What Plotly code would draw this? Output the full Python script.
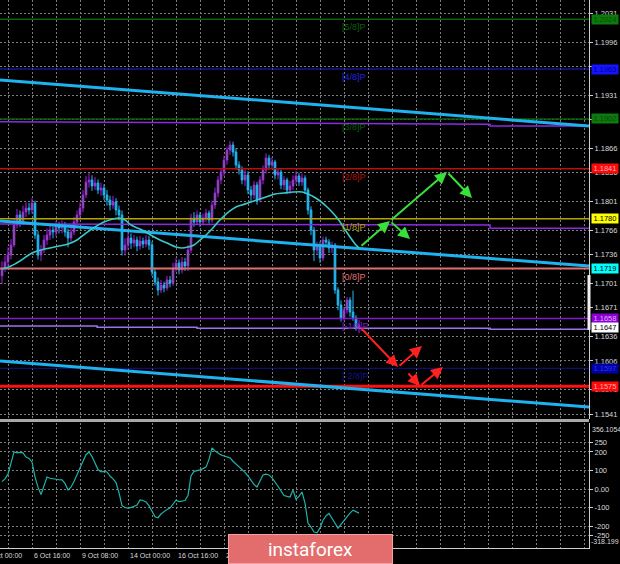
import plotly.graph_objects as go

# ---------------- data ----------------
bar_index = list(range(-10, 110))

close = [
    1.17196, 1.17270, 1.17355, 1.17478, 1.17722, 1.17845, 1.17759, 1.17881, 1.17930, 1.17906,
    1.17991, 1.17600, 1.17355, 1.17416, 1.17539, 1.17600, 1.17661, 1.17637, 1.17710, 1.17686,
    1.17722, 1.17637, 1.17563, 1.17637, 1.17759, 1.17845, 1.17930, 1.18089, 1.18248, 1.18273,
    1.18200, 1.18236, 1.18150, 1.18175, 1.18089, 1.18028, 1.17967, 1.18003, 1.17906, 1.17845,
    1.17416, 1.17478, 1.17563, 1.17502, 1.17539, 1.17466, 1.17526, 1.17490, 1.17539, 1.17478,
    1.17148, 1.17025, 1.16927, 1.16988, 1.16952, 1.17050, 1.17013, 1.17196, 1.17257, 1.17172,
    1.17270, 1.17221, 1.17416, 1.17808, 1.17759, 1.17845, 1.17759, 1.17808, 1.17869, 1.17783,
    1.17967, 1.18114, 1.18273, 1.18370, 1.18517, 1.18639, 1.18701, 1.18615, 1.18456, 1.18395,
    1.18273, 1.18334, 1.18150, 1.18089, 1.18211, 1.18028, 1.18273, 1.18395, 1.18542, 1.18456,
    1.18493, 1.18334, 1.18370, 1.18211, 1.18273, 1.18150, 1.18200, 1.18273, 1.18322, 1.18248,
    1.18297, 1.18150, 1.17906, 1.17661, 1.17416, 1.17478, 1.17319, 1.17539, 1.17514, 1.17441,
    1.17478, 1.16927, 1.16744, 1.16585, 1.16683, 1.16805, 1.16658, 1.16585, 1.16463, 1.16500,
]
high = [
    1.1728, 1.1735, 1.1745, 1.1755, 1.1780, 1.1792, 1.1790, 1.1796, 1.1800, 1.1799,
    1.1805, 1.1802, 1.1765, 1.1748, 1.1760, 1.1768, 1.1772, 1.1770, 1.1777, 1.1776,
    1.1778, 1.1776, 1.1768, 1.1770, 1.1782, 1.1790, 1.1800, 1.1815, 1.1832, 1.1836,
    1.1833, 1.1831, 1.1828, 1.1824, 1.1822, 1.1815, 1.1808, 1.1808, 1.1805, 1.1796,
    1.1790, 1.1756, 1.1764, 1.1762, 1.1760, 1.1758, 1.1759, 1.1757, 1.1760, 1.1759,
    1.1752, 1.1720, 1.1708, 1.1705, 1.1703, 1.1710, 1.1710, 1.1726, 1.1732, 1.1730,
    1.1733, 1.1732, 1.1748, 1.1786, 1.1788, 1.1790, 1.1788, 1.1786, 1.1792, 1.1790,
    1.1802, 1.1818, 1.1832, 1.1842, 1.1857, 1.1868, 1.1875, 1.1874, 1.1866, 1.1850,
    1.1844, 1.1840, 1.1838, 1.1820, 1.1826, 1.1825, 1.1832, 1.1845, 1.1860, 1.1858,
    1.1855, 1.1852, 1.1842, 1.1840, 1.1832, 1.1830, 1.1826, 1.1833, 1.1838, 1.1836,
    1.1835, 1.1833, 1.1818, 1.1795, 1.1770, 1.1752, 1.1752, 1.1758, 1.1758, 1.1755,
    1.1752, 1.1750, 1.1696, 1.1680, 1.1672, 1.1684, 1.1684, 1.1692, 1.1662, 1.1656,
]
low = [
    1.1700, 1.1715, 1.1722, 1.1730, 1.1745, 1.1768, 1.1770, 1.1772, 1.1782, 1.1785,
    1.1786, 1.1755, 1.1730, 1.1728, 1.1738, 1.1748, 1.1754, 1.1756, 1.1758, 1.1762,
    1.1762, 1.1758, 1.1745, 1.1752, 1.1760, 1.1770, 1.1779, 1.1788, 1.1805, 1.1818,
    1.1814, 1.1815, 1.1810, 1.1808, 1.1803, 1.1796, 1.1790, 1.1792, 1.1784, 1.1778,
    1.1735, 1.1735, 1.1742, 1.1743, 1.1745, 1.1740, 1.1742, 1.1744, 1.1745, 1.1742,
    1.1710, 1.1698, 1.1686, 1.1689, 1.1690, 1.1692, 1.1696, 1.1698, 1.1715, 1.1712,
    1.1713, 1.1716, 1.1716, 1.1738, 1.1770, 1.1772, 1.1770, 1.1772, 1.1776, 1.1774,
    1.1775, 1.1792, 1.1806, 1.1822, 1.1832, 1.1846, 1.1858, 1.1856, 1.1840, 1.1834,
    1.1822, 1.1820, 1.1810, 1.1800, 1.1804, 1.1797, 1.1800, 1.1822, 1.1835, 1.1840,
    1.1842, 1.1828, 1.1828, 1.1816, 1.1815, 1.1810, 1.1810, 1.1815, 1.1822, 1.1820,
    1.1820, 1.1810, 1.1785, 1.1760, 1.1728, 1.1736, 1.1726, 1.1728, 1.1745, 1.1738,
    1.1738, 1.1688, 1.1668, 1.1654, 1.1655, 1.1664, 1.1660, 1.1655, 1.1643, 1.1640,
]
first_open = 1.1710
open_ = [first_open] + close[:-1]

ma_index = [-10, -7, -4, 0, 3, 6, 9, 12, 15, 18, 21, 24, 27, 29, 31, 33, 36, 39, 42, 45,
            48, 50, 52, 54, 56, 58, 60, 62, 64, 66, 68, 70, 72, 75, 78, 81, 84, 87, 90, 92,
            94, 96, 98, 100, 102, 104, 106, 108, 109]
ma_value = [1.17184, 1.17221, 1.17282, 1.17380, 1.17416, 1.17441, 1.17465, 1.17490, 1.17539, 1.17624,
            1.17698, 1.17759, 1.17796, 1.17808, 1.17783, 1.17722, 1.17673, 1.17612, 1.17551, 1.17502,
            1.17453, 1.17441, 1.17453, 1.17478, 1.17539, 1.17600, 1.17673, 1.17759, 1.17832, 1.17894,
            1.17943, 1.17967, 1.17991, 1.18028, 1.18065, 1.18101, 1.18114, 1.18126, 1.18126, 1.18101,
            1.18065, 1.18016, 1.17955, 1.17881, 1.17796, 1.17686, 1.17576, 1.17478, 1.17441]

cci = [40, 55, 80, 140, 200, 195, 198, 195, 172, 165,
       146, 65, 10, -30, 20, 65, 58, 54, 52, 50,
       49, 30, -5, 10, 40, 80, 114, 150, 185, 200,
       175, 140, 105, 92, 95, 92, 70, 55, 35, -20,
       -90, -100, -103, -100, -95, -86, -59, -62, -70, -90,
       -120, -150, -155, -135, -122, -110, -103, -80, -60, -68,
       -66, -62, -35, 70, 95, 98, 103, 110, 118, 160,
       222, 205, 192, 184, 178, 172, 168, 150, 135, 122,
       105, 90, 70, 45, 25, 11, 45, 76, 80, 76,
       60, 40, 15, -10, -35, -40, -43, -5, -55, -40,
       -16, -76, -184, -205, -232, -236, -210, -168, -145, -132,
       -155, -185, -211, -190, -172, -148, -130, -114, -122, -130]

# Murrey levels
level_values = [1.2024, 1.1963, 1.1902, 1.1841, 1.1780, 1.1719, 1.1658, 1.1597]
level_names = ["[5/8]P", "[4/8]P", "[3/8]P", "[2/8]P", "[1/8]P", "[0/8]P", "[-1/8]P", "[-2/8]P"]
level_colors = ["#0b5f0b", "#2222e0", "#0b5f0b", "#b80f0f", "#b4a400", "#e07070", "#8418cc", "#12128c"]
level_widths = [1.5, 1, 1.5, 1.5, 1.5, 2, 1.5, 1]

# price boxes on the right scale
box_values = [1.2024, 1.1963, 1.1902, 1.1841, 1.1780, 1.1719, 1.1658, 1.1647, 1.1597, 1.1575]
box_bg = ["#0d7a0d", "#1414ff", "#0d7a0d", "#ff0a0a", "#ffff00", "#00ffff", "#8c00d4", "#ffffff", "#0000a0", "#ff0a0a"]
box_fg = ["#0a4a0a", "#000090", "#0a4a0a", "#ffb0b0", "#000000", "#000000", "#e0b0ff", "#000000", "#3030ff", "#ffb0b0"]

# other horizontal / sloped lines (bar index, price)
support_red = 1.1575
purple_hi_x = [-10.667, 90, 152.7, 152.7, 185.667]
purple_hi_y = [1.18986, 1.18962, 1.18955, 1.18933, 1.18933]
purple_mid_x = [-10.667, 152.7, 152.7, 185.667]
purple_mid_y = [1.17734, 1.17722, 1.17682, 1.17682]
purple_lo_x = [-10.667, 21.7, 21.7, 55, 55, 152.7, 152.7, 185.667]
purple_lo_y = [1.16487, 1.16487, 1.16471, 1.16471, 1.16459, 1.16459, 1.16447, 1.16447]

trend_x = [-10.667, 185.667]
trend_upper = [1.19496, 1.18933]
trend_mid = [1.17771, 1.17221]
trend_low = [1.16059, 1.15496]

# forecast arrows: (tail_x, tail_y, head_x, head_y)
green_arrows = [(109.33, 1.17453, 119.33, 1.17771),
                (119.33, 1.17771, 126.0, 1.17551),
                (119.33, 1.17771, 138.33, 1.18370),
                (138.33, 1.18370, 146.67, 1.18053)]
red_arrows = [(109.33, 1.16475, 122.0, 1.15986),
              (122.0, 1.15986, 130.0, 1.16243),
              (125.0, 1.15925, 129.33, 1.15753),
              (129.33, 1.15753, 137.0, 1.15986)]

price_ticks = [1.2031, 1.1996, 1.1966, 1.1931, 1.1901, 1.1866, 1.1836, 1.1801, 1.1766,
               1.1736, 1.1701, 1.1671, 1.1636, 1.1606, 1.1571, 1.1541]
# labels of 1.1966 and 1.1901 are fully covered by the level boxes in the original
price_tick_text = ["1.2031", "1.1996", "", "1.1931", "", "1.1866", "1.1836", "1.1801", "1.1766",
                   "1.1736", "1.1701", "1.1671", "1.1636", "1.1606", "1.1571", "1.1541"]
cci_ticks = [250, 200, 100, 0, -100, -200, -250]
cci_tick_text = ["250", "200", "100", "0.00", "-100", "-200", "-250"]
cci_max, cci_min = 356.1054, -318.199

time_label_index = [-16, 0, 16, 32, 48, 64]
time_label_text = ["2 Oct 00:00", "6 Oct 16:00", "9 Oct 08:00", "14 Oct 00:00",
                   "16 Oct 16:00", "21 Oct 08:00"]

# ---------------- layout constants ----------------
W, H = 620, 564
ML, MR, MT, MB = 0, 31, 0, 16
x_min, x_max = -32 / 3, (589 - 32) / 3
p_top, p_bot = 1.20474, 1.15350
FONT = "Liberation Sans"
TXT = "#dadada"
GRID = "#7c7c7c"
FS = 7.5

fig = go.Figure()

for v, c, w in zip(level_values, level_colors, level_widths):
    fig.add_trace(go.Scatter(x=[x_min, x_max], y=[v, v], mode="lines",
                             line=dict(color=c, width=w), hoverinfo="skip", showlegend=False))
fig.add_trace(go.Scatter(x=purple_hi_x, y=purple_hi_y, mode="lines",
                         line=dict(color="#8a2be2", width=1.5), hoverinfo="skip", showlegend=False))
fig.add_trace(go.Scatter(x=purple_mid_x, y=purple_mid_y, mode="lines",
                         line=dict(color="#8a2be2", width=1.5), hoverinfo="skip", showlegend=False))
fig.add_trace(go.Scatter(x=purple_lo_x, y=purple_lo_y, mode="lines",
                         line=dict(color="#a070f0", width=1.5), hoverinfo="skip", showlegend=False))
fig.add_trace(go.Scatter(x=[x_min, x_max], y=[support_red, support_red], mode="lines",
                         line=dict(color="#ff1010", width=3), hoverinfo="skip", showlegend=False))
for ty in (trend_upper, trend_mid, trend_low):
    fig.add_trace(go.Scatter(x=trend_x, y=ty, mode="lines",
                             line=dict(color="#1fb2ee", width=3), hoverinfo="skip", showlegend=False))

fig.add_trace(go.Candlestick(
    x=bar_index, open=open_, high=high, low=low, close=close,
    increasing=dict(line=dict(color="#a81ee8", width=1), fillcolor="#32d232"),
    decreasing=dict(line=dict(color="#22b8f2", width=1), fillcolor="#22b8f2"),
    whiskerwidth=0, showlegend=False, hoverinfo="skip"))

fig.add_trace(go.Scatter(x=ma_index, y=ma_value, mode="lines", line=dict(color="#3cc8c8", width=1.6, shape="spline"),
                         hoverinfo="skip", showlegend=False))

fig.add_trace(go.Scatter(x=bar_index, y=cci, mode="lines", line=dict(color="#20b2aa", width=1.2),
                         xaxis="x2", yaxis="y2", hoverinfo="skip", showlegend=False))

main_dom = [(H - MT - MB - 419) / (H - MT - MB), 1]
low_dom = [0, (H - MB - 423) / (H - MT - MB)]
grid_kw = dict(showgrid=True, gridcolor=GRID, gridwidth=1, griddash="2px,2px", zeroline=False)

fig.update_layout(
    width=W, height=H,
    margin=dict(l=ML, r=MR, t=MT, b=MB, autoexpand=False),
    paper_bgcolor="#000000", plot_bgcolor="#000000",
    hovermode=False,
    boxgap=0.2,
    xaxis=dict(domain=[0, 1], range=[x_min, x_max], anchor="y", side="top",
               tick0=0, dtick=8, showticklabels=False, ticks="",
               showline=True, linecolor="#cfcfcf", linewidth=1,
               rangeslider=dict(visible=False), **grid_kw),
    xaxis2=dict(domain=[0, 1], range=[x_min, x_max], anchor="y2", matches="x",
                tick0=0, dtick=8, showticklabels=False, ticks="",
                showline=True, linecolor="#cfcfcf", linewidth=1, **grid_kw),
    yaxis=dict(domain=main_dom, range=[p_bot, p_top], side="right", anchor="x",
               tickvals=price_ticks, ticktext=price_tick_text, ticks="outside", ticklen=3,
               tickcolor="#cfcfcf", showline=True, linecolor="#cfcfcf", automargin=False,
               tickfont=dict(family=FONT, size=FS, color=TXT), **grid_kw),
    yaxis2=dict(domain=low_dom, range=[cci_min, cci_max], side="right", anchor="x2",
                tickvals=cci_ticks, ticktext=cci_tick_text, ticks="outside", ticklen=3,
                tickcolor="#cfcfcf", showline=True, linecolor="#cfcfcf", automargin=False,
                tickfont=dict(family=FONT, size=FS, color=TXT), **grid_kw),
    font=dict(family=FONT, size=FS, color=TXT),
)

sep_y = (H - MB - 420.5) / (H - MT - MB)
fig.add_shape(type="line", xref="paper", yref="paper", x0=0, x1=1, y0=sep_y, y1=sep_y,
              line=dict(color="#a8a8a8", width=3))
fig.add_shape(type="line", xref="paper", yref="y", x0=1, x1=1, y0=1.1711, y1=1.1644,
              line=dict(color="#f0f0f0", width=3))

ann = []
for v, n, c in zip(level_values, level_names, level_colors):
    ann.append(dict(x=102.7, y=v, xref="x", yref="y", text=n, showarrow=False,
                    xanchor="left", yanchor="top", yshift=-1,
                    font=dict(family=FONT, size=9, color=c)))
for v, bg, fg in zip(box_values, box_bg, box_fg):
    ann.append(dict(x=1, y=v, xref="paper", yref="y", text=f"{v:.4f}", showarrow=False,
                    xanchor="left", yanchor="middle", xshift=2, bgcolor=bg, borderpad=0,
                    width=26, height=9, font=dict(family=FONT, size=FS, color=fg)))
ann.append(dict(x=1, y=cci_max, xref="paper", yref="y2", text=f"{cci_max:.4f}", showarrow=False,
                xanchor="left", yanchor="top", xshift=1, yshift=-1, font=dict(family=FONT, size=7, color=TXT)))
ann.append(dict(x=1, y=cci_min, xref="paper", yref="y2", text=f"{cci_min:.3f}", showarrow=False,
                xanchor="left", yanchor="bottom", xshift=0, yshift=1, font=dict(family=FONT, size=7, color=TXT)))
for (tx, ty, hx, hy) in green_arrows:
    ann.append(dict(x=hx, y=hy, ax=tx, ay=ty, xref="x", yref="y", axref="x", ayref="y",
                    showarrow=True, text="", arrowhead=2, arrowsize=1.2, arrowwidth=2, arrowcolor="#3ae03a"))
for (tx, ty, hx, hy) in red_arrows:
    ann.append(dict(x=hx, y=hy, ax=tx, ay=ty, xref="x", yref="y", axref="x", ayref="y",
                    showarrow=True, text="", arrowhead=2, arrowsize=1.2, arrowwidth=2, arrowcolor="#ff2020"))
for i, t in zip(time_label_index, time_label_text):
    if i < x_min:
        ann.append(dict(x=(i - x_min) / (x_max - x_min), y=0, xref="paper", yref="paper", text=t,
                        showarrow=False, xanchor="left", yanchor="top", yshift=-2,
                        font=dict(family=FONT, size=7, color=TXT)))
    else:
        ann.append(dict(x=i, y=0, xref="x2", yref="paper", text=t, showarrow=False,
                        xanchor="left", yanchor="top", yshift=-2,
                        font=dict(family=FONT, size=7, color=TXT)))
ann.append(dict(x=228 / 589, y=(H - MB - 534) / (H - MT - MB), xref="paper", yref="paper",
                text="instaforex", showarrow=False, xanchor="left", yanchor="top",
                width=163, height=28, borderpad=0, bgcolor="#e36d6d", bordercolor="#f2a0a0",
                borderwidth=1, align="center", font=dict(family="Roboto", size=19, color="#ffffff")))
fig.update_layout(annotations=ann)

fig.write_html("out.html", config={"displayModeBar": False},
               post_script="document.body.style.margin='0';document.body.style.overflow='hidden';")
